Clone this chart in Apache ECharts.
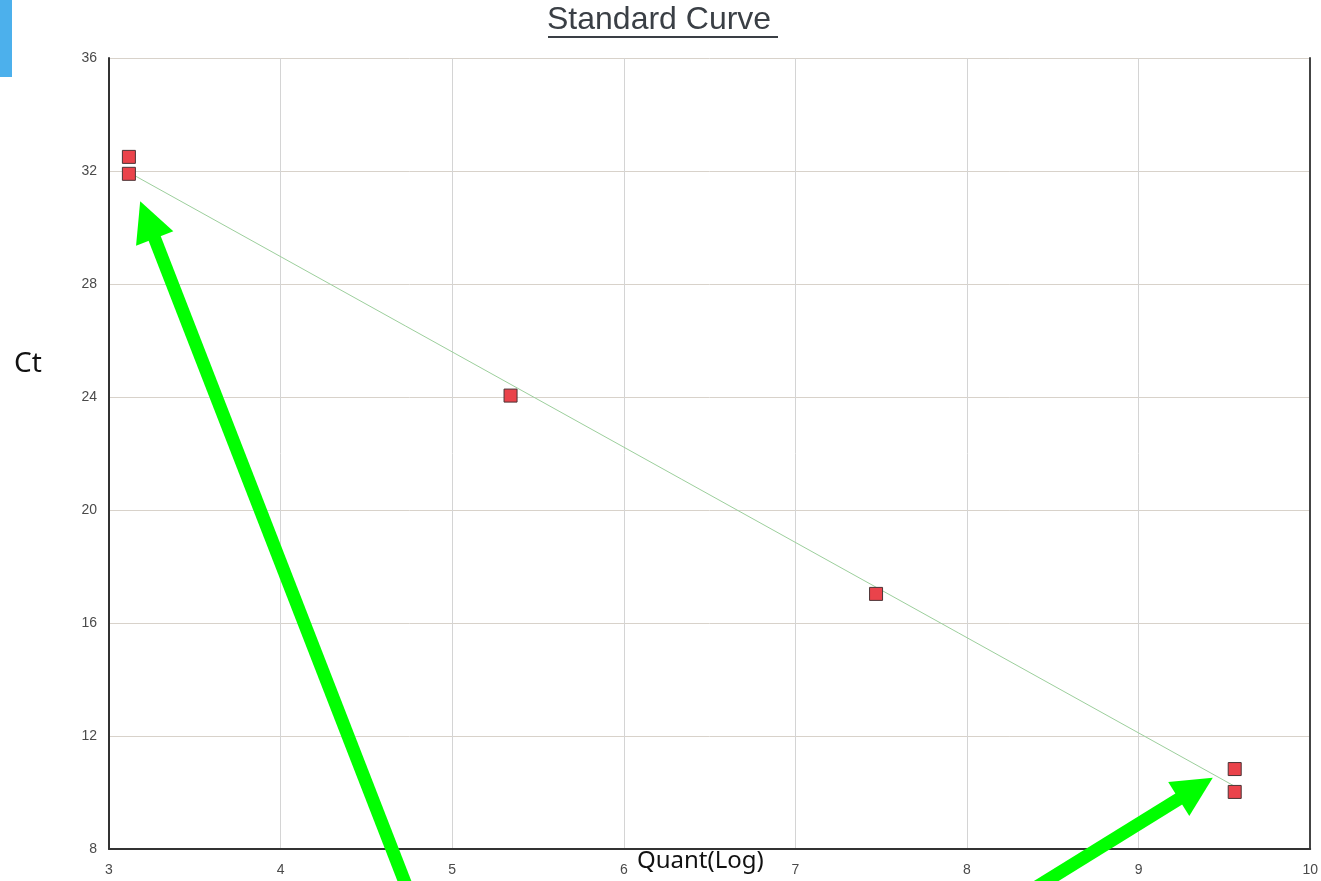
<!DOCTYPE html>
<html>
<head>
	<meta charset="utf-8"/>
	<title>Standard Curve</title>
</head>
<body style="margin: 0; background: #fff;">

	<div id="chart" style="width: 1321px; height: 881px;"></div>

	<script src="https://cdn.jsdelivr.net/npm/echarts@6/dist/echarts.min.js"></script>
	<script>

		// 标准曲线上的点 (Quant(Log), Ct)
		var quantLog = [3.116, 3.116, 5.34, 7.47, 9.56, 9.56];
		var ctValues = [32.5, 31.9, 24.05, 17.03, 10.83, 10.02];

		// 拟合直线两端
		var fitX = [3.116, 9.56];
		var fitY = [31.95, 10.22];

		// 绿色箭头 (尾 -> 头)
		var arrowFrom = [[4.745, 6.5], [8.364, 6.5]];
		var arrowTo = [[3.224, 30.27], [9.333, 10.145]];

		var xTicks = [3, 4, 5, 6, 7, 8, 9, 10];
		var yTicks = [8, 12, 16, 20, 24, 28, 32, 36];

		var oChart = document.getElementById('chart');
		var myChart = echarts.init(oChart);

		var points = [];
		for (var i = 0; i < quantLog.length; i++) {
			points.push([quantLog[i], ctValues[i]]);
		}

		var fitLine = [];
		for (var i = 0; i < fitX.length; i++) {
			fitLine.push([fitX[i], fitY[i]]);
		}

		var arrows = [];
		for (var i = 0; i < arrowFrom.length; i++) {
			arrows.push({ coords: [arrowFrom[i], arrowTo[i]] });
		}

		var labelStyle = {
			color: '#4a4a4a',
			fontSize: 14,
			fontFamily: 'Liberation Sans, Arial, sans-serif'
		};

		var option = {
			backgroundColor: '#fff',
			animation: false,
			grid: {
				left: 109,
				right: 9,
				top: 58,
				bottom: 32
			},
			xAxis: {
				type: 'value',
				min: xTicks[0],
				max: xTicks[xTicks.length - 1],
				interval: 1,
				axisLine: { onZero: false, lineStyle: { color: '#333', width: 2 } },
				axisTick: { show: false },
				axisLabel: Object.assign({ margin: 14 }, labelStyle),
				splitLine: { lineStyle: { color: '#d4d4d4', width: 1 } }
			},
			yAxis: [
				{
					type: 'value',
					min: yTicks[0],
					max: yTicks[yTicks.length - 1],
					interval: 4,
					axisLine: { show: true, onZero: false, lineStyle: { color: '#333', width: 2 } },
					axisTick: { show: false },
					axisLabel: Object.assign({ margin: 12 }, labelStyle),
					splitLine: { lineStyle: { color: '#d8d2ca', width: 1 } }
				},
				{
					type: 'value',
					position: 'right',
					min: yTicks[0],
					max: yTicks[yTicks.length - 1],
					interval: 4,
					axisLine: { show: true, onZero: false, lineStyle: { color: '#444', width: 2 } },
					axisTick: { show: false },
					axisLabel: { show: false },
					splitLine: { show: false }
				}
			],
			graphic: [
				{
					type: 'rect',
					left: 0,
					top: 0,
					shape: { width: 12, height: 77 },
					style: { fill: '#4cb0ec' }
				},
				{
					type: 'text',
					left: 547,
					top: 4,
					style: {
						text: 'Standard Curve',
						fill: '#3a3f45',
						font: '32px "Liberation Sans", Arial, sans-serif'
					}
				},
				{
					type: 'rect',
					left: 548,
					top: 36,
					shape: { width: 230, height: 2 },
					style: { fill: '#3a3f45' }
				},
				{
					type: 'text',
					left: 14,
					top: 350,
					style: {
						text: 'Ct',
						fill: '#111',
						font: '28px "Noto Sans", "Open Sans", sans-serif'
					}
				},
				{
					type: 'text',
					left: 637,
					top: 849,
					style: {
						text: 'Quant(Log)',
						fill: '#111',
						font: '24px "Noto Sans", "Open Sans", sans-serif'
					}
				}
			],
			series: [
				{
					name: 'fit',
					type: 'line',
					data: fitLine,
					symbol: 'none',
					lineStyle: { color: '#9ccf9c', width: 1 },
					z: 2
				},
				{
					name: 'standards',
					type: 'scatter',
					data: points,
					symbol: 'rect',
					symbolSize: 13,
					itemStyle: {
						color: '#ea434b',
						borderColor: '#4a3436',
						borderWidth: 1,
						opacity: 1
					},
					z: 3
				},
				{
					name: 'arrows',
					type: 'lines',
					coordinateSystem: 'cartesian2d',
					clip: false,
					data: arrows,
					symbol: ['none', 'triangle'],
					symbolSize: [0, 40],
					lineStyle: { color: '#00ff00', width: 13, opacity: 1, curveness: 0 },
					z: 4
				}
			]
		};

		myChart.setOption(option);

	</script>
</body>
</html>
